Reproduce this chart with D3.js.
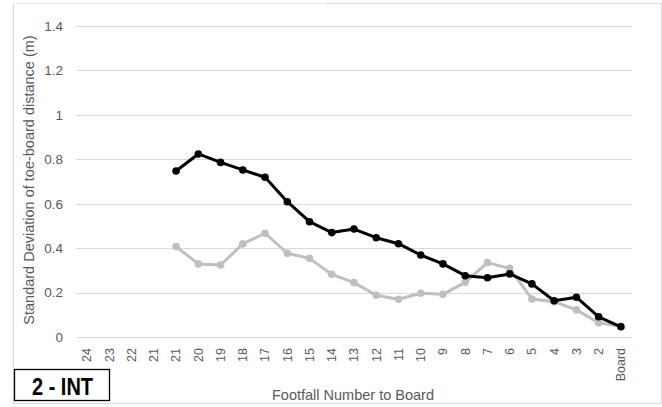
<!DOCTYPE html>
<html>
<head>
<meta charset="utf-8">
<script src="https://cdn.jsdelivr.net/npm/d3@7"></script>
<style>
  html, body { margin: 0; padding: 0; background: #fff; }
  svg { display: block; }
  text { font-family: "Liberation Sans", Arial, sans-serif; }
</style>
</head>
<body>
<svg id="chart" width="662" height="407"></svg>
<script>
// Footfall positions counted back from the board (axis order, left to right)
const footfalls = ["24", "23", "22", "21", "21b", "20", "19", "18", "17", "16", "15", "14",
                   "13", "12", "11", "10", "9", "8", "7", "6", "5", "4", "3", "2", "Board"];
const footfallLabels = ["24", "23", "22", "21", "21", "20", "19", "18", "17", "16", "15", "14",
                        "13", "12", "11", "10", "9", "8", "7", "6", "5", "4", "3", "2", "Board"];

// Footfalls that carry a value (from the second "21" through the board)
const measuredSteps = ["21b", "20", "19", "18", "17", "16", "15", "14", "13", "12", "11",
                       "10", "9", "8", "7", "6", "5", "4", "3", "2", "Board"];

// Standard deviation of toe-board distance (m)
const darkSeries  = [0.747, 0.824, 0.786, 0.752, 0.719, 0.609, 0.519, 0.470, 0.486, 0.447, 0.420,
                     0.369, 0.329, 0.276, 0.267, 0.284, 0.239, 0.163, 0.179, 0.091, 0.046];
const lightSeries = [0.407, 0.329, 0.324, 0.419, 0.467, 0.377, 0.354, 0.282, 0.245, 0.188, 0.170,
                     0.197, 0.192, 0.246, 0.335, 0.309, 0.171, 0.159, 0.122, 0.064, 0.048];

const yTicks = [0, 0.2, 0.4, 0.6, 0.8, 1, 1.2, 1.4];

const svg = d3.select("#chart");

// outer frame
svg.append("line").attr("x1", 13.5).attr("x2", 326).attr("y1", 3.5).attr("y2", 3.5)
  .attr("stroke", "#efefef");
svg.append("line").attr("x1", 326).attr("x2", 661.5).attr("y1", 3.5).attr("y2", 3.5)
  .attr("stroke", "#d9d9d9");
svg.append("line").attr("x1", 13.5).attr("x2", 13.5).attr("y1", 3.5).attr("y2", 403.5)
  .attr("stroke", "#d9d9d9");
svg.append("line").attr("x1", 661.5).attr("x2", 661.5).attr("y1", 3.5).attr("y2", 403.5)
  .attr("stroke", "#d9d9d9");
svg.append("line").attr("x1", 13.5).attr("x2", 661.5).attr("y1", 403.5).attr("y2", 403.5)
  .attr("stroke", "#d9d9d9");

const plot = { left: 76, right: 632, top: 26, bottom: 337 };

const x = d3.scaleBand().domain(footfalls).range([plot.left, plot.right]);
const y = d3.scaleLinear().domain([0, 1.4]).range([plot.bottom, plot.top]);
const cx = d => x(d) + x.bandwidth() / 2;

// horizontal gridlines
svg.append("g")
  .selectAll("line")
  .data(yTicks)
  .join("line")
  .attr("x1", plot.left).attr("x2", plot.right)
  .attr("y1", d => Math.round(y(d)) + 0.5).attr("y2", d => Math.round(y(d)) + 0.5)
  .attr("stroke", "#d9d9d9").attr("stroke-width", 1.2);

// y axis labels
const yAxis = d3.axisLeft(y).tickValues(yTicks).tickSize(0).tickPadding(0)
  .tickFormat(d => d3.format("~g")(d));
svg.append("g")
  .attr("transform", `translate(${plot.left - 13},0)`)
  .call(yAxis)
  .call(g => g.select(".domain").remove())
  .call(g => g.selectAll("text")
    .attr("fill", "#595959").attr("font-size", "13.5px")
    .attr("font-family", "'Liberation Sans', Arial, sans-serif"));

// x axis labels, rotated
const xAxis = d3.axisBottom(x).tickSize(0).tickPadding(0)
  .tickFormat((d, i) => footfallLabels[i]);
svg.append("g")
  .attr("transform", `translate(0,${plot.bottom})`)
  .call(xAxis)
  .call(g => g.select(".domain").remove())
  .call(g => g.selectAll(".tick text")
    .attr("fill", "#595959").attr("font-size", "12.5px")
    .attr("font-family", "'Liberation Sans', Arial, sans-serif")
    .attr("transform", "rotate(-90)")
    .attr("text-anchor", "end")
    .attr("x", -11).attr("y", 0).attr("dy", "0.35em"));

// axis titles
svg.append("text")
  .attr("transform", "translate(34,180) rotate(-90)")
  .attr("text-anchor", "middle")
  .attr("fill", "#595959").attr("font-size", "14.5px")
  .text("Standard Deviation of toe-board distance (m)");

svg.append("text")
  .attr("x", 353).attr("y", 400)
  .attr("text-anchor", "middle")
  .attr("fill", "#595959").attr("font-size", "14.5px")
  .text("Footfall Number to Board");

// series
const series = [
  { values: lightSeries, color: "#bfbfbf" },
  { values: darkSeries, color: "#000000" }
];

const line = d3.line()
  .x(d => cx(d.step))
  .y(d => y(d.v));

series.forEach(s => {
  const pts = measuredSteps.map((step, i) => ({ step, v: s.values[i] }));
  svg.append("path")
    .datum(pts)
    .attr("fill", "none")
    .attr("stroke", s.color)
    .attr("stroke-width", 3)
    .attr("stroke-linejoin", "round")
    .attr("d", line);
  svg.append("g")
    .selectAll("circle")
    .data(pts)
    .join("circle")
    .attr("cx", d => cx(d.step))
    .attr("cy", d => y(d.v))
    .attr("r", 3.8)
    .attr("fill", s.color);
});

// panel tag
svg.append("rect")
  .attr("x", 14.5).attr("y", 369.5).attr("width", 95).attr("height", 31)
  .attr("fill", "#fff").attr("stroke", "#000").attr("stroke-width", 1.3);
svg.append("text")
  .attr("x", 32).attr("y", 395)
  .attr("font-size", "23px").attr("font-weight", "bold").attr("fill", "#000")
  .attr("textLength", 61).attr("lengthAdjust", "spacingAndGlyphs")
  .text("2 - INT");
</script>
</body>
</html>
